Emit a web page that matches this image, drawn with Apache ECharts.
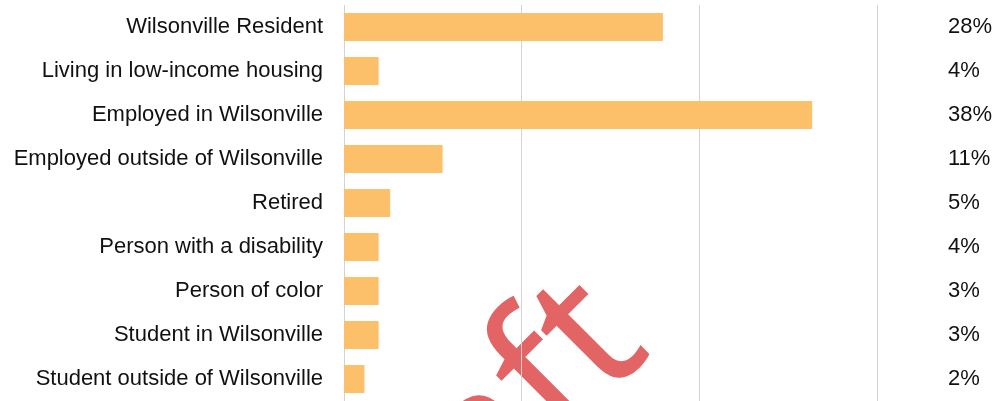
<!DOCTYPE html>
<html>
<head>
<meta charset="utf-8">
<style>
  html, body { margin: 0; padding: 0; background: #ffffff; }
  #chart { width: 997px; height: 401px; }
</style>
<script src="https://cdn.jsdelivr.net/npm/echarts@6/dist/echarts.min.js"></script>
</head>
<body>
<div id="chart"></div>
<script>
// Respondent groups, top to bottom
const categories = [
  'Wilsonville Resident',
  'Living in low-income housing',
  'Employed in Wilsonville',
  'Employed outside of Wilsonville',
  'Retired',
  'Person with a disability',
  'Person of color',
  'Student in Wilsonville',
  'Student outside of Wilsonville'
];
// Bar measure for each group (axis gridlines every 20)
const responseScore = [35.9, 3.9, 52.7, 11.1, 5.2, 3.9, 3.9, 3.9, 2.3];
// Share column printed on the right
const shareLabels = ['28%', '4%', '38%', '11%', '5%', '4%', '3%', '3%', '2%'];
// Value axis ticks
const axisMax = 60;
const axisStep = 20;

const chart = echarts.init(document.getElementById('chart'), null, { renderer: 'canvas' });

const labelFont = {
  fontFamily: '"Liberation Sans", Arial, sans-serif',
  fontSize: 22,
  color: '#111111'
};

chart.setOption({
  animation: false,
  backgroundColor: '#ffffff',
  grid: { left: 344, top: 5, width: 533, height: 400, containLabel: false },
  xAxis: {
    type: 'value',
    min: 0,
    max: axisMax,
    interval: axisStep,
    axisLine: { show: false },
    axisTick: { show: false },
    axisLabel: { show: false },
    splitLine: { show: true, lineStyle: { color: '#d6d1d4', width: 1 } }
  },
  yAxis: [
    {
      type: 'category',
      data: categories,
      inverse: true,
      axisLine: { show: false },
      axisTick: { show: false },
      axisLabel: Object.assign({ margin: 21, align: 'right', padding: [4, 0, 0, 0] }, labelFont)
    },
    {
      type: 'category',
      data: shareLabels,
      inverse: true,
      position: 'right',
      axisLine: { show: false },
      axisTick: { show: false },
      axisLabel: Object.assign({ margin: 71, align: 'left', padding: [4, 0, 0, 0] }, labelFont)
    }
  ],
  series: [
    {
      type: 'bar',
      data: responseScore,
      barWidth: 28,
      itemStyle: { color: '#fdc06a' },
      z: 3
    }
  ],
  graphic: [
    {
      // "Draft" stamp, mostly running off the bottom edge
      type: 'text',
      x: 681,
      y: 380,
      rotation: 45 * Math.PI / 180,
      z: -10,
      silent: true,
      style: {
        text: 'Draft',
        fill: 'rgba(226, 92, 92, 0.95)',
        font: '185px "Noto Sans", sans-serif',
        align: 'right',
        verticalAlign: 'bottom'
      }
    }
  ]
});
</script>
</body>
</html>
